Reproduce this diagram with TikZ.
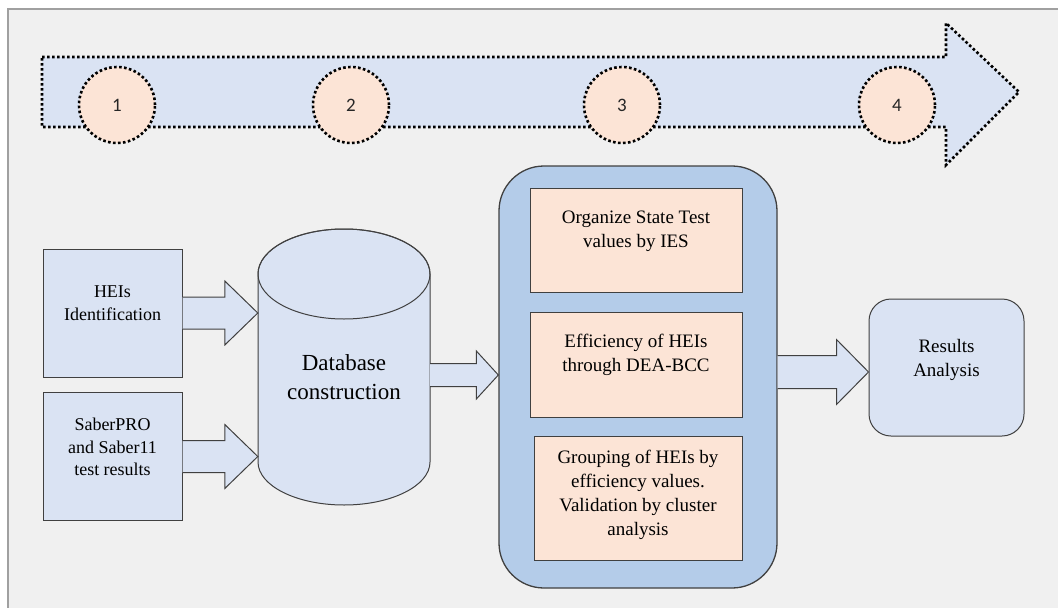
\documentclass[tikz,border=0pt]{standalone}
\usepackage{fontspec}
\setmainfont{Liberation Serif}
\newfontfamily\numfont{Carlito}
\usetikzlibrary{calc}

\definecolor{bgcol}{HTML}{F0F0F0}
\definecolor{framecol}{HTML}{A0A0A0}
\definecolor{lblue}{HTML}{DAE3F3}
\definecolor{mblue}{HTML}{B4CCE9}
\definecolor{peach}{HTML}{FCE4D6}
\definecolor{edge}{HTML}{404040}

% block arrow: from #1 (its y is kept) to the x of #2, shaft half, head half, head length
\newcommand{\blockarrow}[5]{%
  \filldraw[fill=lblue,draw=edge,line width=1pt] let \p1=(#1), \p2=(#2) in
    (\x1,\y1+#3pt) -- (\x2-#5pt,\y1+#3pt) -- (\x2-#5pt,\y1+#4pt) -- (\x2,\y1)
    -- (\x2-#5pt,\y1-#4pt) -- (\x2-#5pt,\y1-#3pt) -- (\x1,\y1-#3pt);}

\begin{document}
\begin{tikzpicture}[x=1pt,y=-1pt,
  dotline/.style={line width=2.6pt,dash pattern=on 2.6pt off 2.4pt},
  stage/.style={draw,circle,dotline,fill=peach,minimum size=76pt,inner sep=0pt,
    font=\numfont\fontsize{19}{21}\selectfont,text=black!85},
  inbox/.style={draw=edge,line width=1pt,fill=lblue,minimum width=139pt,minimum height=128pt,inner sep=0pt},
  stepbox/.style={draw=edge,line width=1pt,fill=peach,inner sep=0pt},
  boxtext/.style={align=center,inner sep=0pt,font=\fontsize{19}{24}\selectfont}]
\useasboundingbox (0,0) rectangle (1058,608);
\fill[white] (0,0) rectangle (1058,608);
\filldraw[fill=bgcol,draw=framecol,line width=1.2pt] (8,9) rectangle (1070,620);

% time line
\filldraw[fill=lblue,dotline] (42,57) -- (946,57) -- (946,23) -- (1019,92)
  -- (946,165) -- (946,127) -- (42,127) -- cycle;
\node[stage] (s1) at (117,105) {1};
\node[stage] (s2) at (351,105) {2};
\node[stage] (s3) at (622,105) {3};
\node[stage] (s4) at (897,105) {4};

% inputs
\node[inbox] (hei) at (112.5,313) {};
\node[boxtext,font=\fontsize{18}{23}\selectfont] (heitxt) at (112.5,303.5) {HEIs\\Identification};
\node[inbox] (saber) at (112.5,456.5) {};
\node[boxtext,font=\fontsize{18}{22.5}\selectfont] (sabertxt) at (112.5,447) {SaberPRO\\and Saber11\\test results};

% database cylinder
\node[minimum width=172pt,minimum height=276pt,inner sep=0pt] (db) at (344,367) {};
\filldraw[fill=lblue,draw=edge,line width=1pt] (258,274) -- (258,462)
  arc[start angle=180,end angle=360,x radius=86pt,y radius=43pt] -- (430,274)
  arc[start angle=0,end angle=180,x radius=86pt,y radius=45pt] -- cycle;
\draw[edge,line width=1pt] (344,274) ellipse[x radius=86pt,y radius=45pt];
\node[boxtext,font=\fontsize{23}{29}\selectfont] (dbtxt) at (344,377.5) {Database\\construction};

% process
\node[draw=edge,line width=1.3pt,fill=mblue,rounded corners=45pt,
  minimum width=278pt,minimum height=422pt] (mid) at (638,377) {};
\node[stepbox,minimum width=212pt,minimum height=104pt] (org) at (636,240) {};
\node[boxtext] (orgtxt) at (636,231) {Organize State Test\\values by IES};
\node[stepbox,minimum width=212pt,minimum height=105pt] (eff) at (636,364.5) {};
\node[boxtext] (efftxt) at (636,355) {Efficiency of HEIs\\through DEA-BCC};
\node[stepbox,minimum width=208pt,minimum height=124pt] (grp) at (638,498) {};
\node[boxtext] (grptxt) at (638,495) {Grouping of HEIs by\\efficiency values.\\Validation by cluster\\analysis};

% output
\node[draw=edge,line width=1pt,fill=lblue,rounded corners=22pt,
  minimum width=155pt,minimum height=137pt] (res) at (946.5,367.5) {};
\node[boxtext] (restxt) at (946.5,359.5) {Results\\Analysis};

\blockarrow{hei.east}{db.west}{16}{32}{33}
\blockarrow{saber.east}{db.west}{16}{32}{33}
\blockarrow{[yshift=-8pt]db.east}{mid.west}{11.5}{24}{22}
\blockarrow{[yshift=5pt]mid.east}{res.west}{16.5}{32.5}{32}
\end{tikzpicture}
\end{document}
